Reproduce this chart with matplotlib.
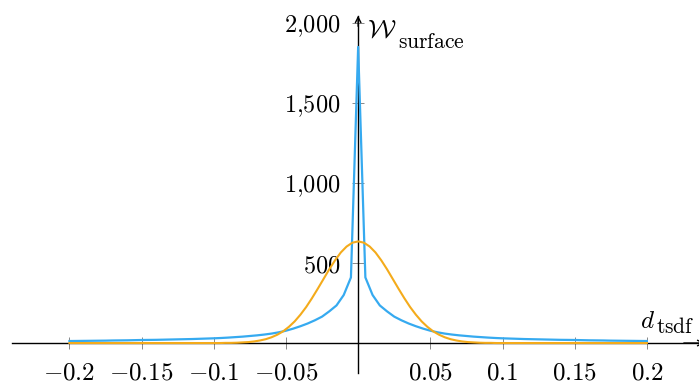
import numpy as np
import matplotlib
matplotlib.use("Agg")
import matplotlib.pyplot as plt

plt.rcParams['mathtext.fontset'] = 'cm'
plt.rcParams['font.family'] = 'DejaVu Serif'

# sample positions of the blue curve (step 0.005)
d_blue = np.linspace(-0.2, 0.2, 81)
# finer sampling for the yellow curve (step 0.004)
d_yellow = np.linspace(-0.2, 0.2, 101)

# surface weight: right half from 0.005 to 0.2
w_blue_right = [410, 300, 235, 198, 165, 142, 122, 105, 90, 77,
                67, 59, 53, 48, 44, 40, 37, 34, 31.5, 29.5,
                28, 26.5, 25, 24, 23, 22, 21, 20, 19.5, 19,
                18, 17, 16.5, 16, 15, 14.5, 14, 13.5, 13, 12.5]
w_blue_peak = 1850
w_blue = w_blue_right[::-1] + [w_blue_peak] + w_blue_right

w_yellow = [0] * 27 + [
    1, 1, 2, 4, 6, 10, 16, 24, 36, 52, 73, 101, 135, 177, 225, 280,
    339, 400, 461, 517, 566, 603, 627,
    635,
    627, 603, 566, 517, 461, 400, 339, 280, 225, 177, 135, 101, 73,
    52, 36, 24, 16, 10, 6, 4, 2, 1, 1] + [0] * 27

xticks = [-0.2, -0.15, -0.1, -0.05, 0.05, 0.1, 0.15, 0.2]
xlabels = ['$-0.2$', '$-0.15$', '$-0.1$', '$-0.05$',
           '$0.05$', '$0.1$', '$0.15$', '$0.2$']
yticks = [500, 1000, 1500, 2000]
ylabels = ['$500$', '$1{,}000$', '$1{,}500$', '$2{,}000$']

fig = plt.figure(figsize=(6.99, 3.85), dpi=100)
ax = fig.add_axes([11.7 / 699, 1 - 372.8 / 385, 692.9 / 699, 357.2 / 385])

ax.plot(d_blue, w_blue, color='#36aaf0', lw=1.6, zorder=3)
ax.plot(d_yellow, w_yellow, color='#f4ab1b', lw=1.5, zorder=3)

ax.set_xlim(-0.24, 0.24)
ax.set_ylim(-186, 2046)

for s in ['top', 'right']:
    ax.spines[s].set_visible(False)
ax.spines['left'].set_position(('data', 0))
ax.spines['bottom'].set_position(('data', 0))
ax.spines['left'].set_linewidth(1.0)
ax.spines['bottom'].set_linewidth(1.0)

# arrow heads
ax.annotate('', xy=(1, 0), xytext=(0.97, 0), xycoords=('axes fraction', 'data'),
            arrowprops=dict(arrowstyle='->', lw=1.0, color='k', shrinkA=0, shrinkB=0))
ax.annotate('', xy=(0, 1), xytext=(0, 0.97), xycoords=('data', 'axes fraction'),
            arrowprops=dict(arrowstyle='->', lw=1.0, color='k', shrinkA=0, shrinkB=0))

ax.set_xticks(xticks)
ax.set_xticklabels(xlabels, fontsize=18)
ax.set_yticks(yticks)
ax.set_yticklabels(ylabels, fontsize=17.5)
ax.tick_params(axis='both', direction='inout', length=8, width=0.7, color='#888888')
ax.tick_params(axis='x', pad=9.5)
ax.tick_params(axis='y', pad=8.5)

# axis labels (main symbol and subscript as separate texts)
fig.text(367 / 699, 1 - 37 / 385, r'$\mathcal{W}$', fontsize=19,
         ha='left', va='baseline')
fig.text(398 / 699, 1 - 48 / 385, r'$\mathrm{surface}$', fontsize=15.5,
         ha='left', va='baseline')
fig.text(640 / 699, 1 - 328 / 385, r'$d$', fontsize=18,
         ha='left', va='baseline')
fig.text(656 / 699, 1 - 333 / 385, r'$\mathrm{tsdf}$', fontsize=15.5,
         ha='left', va='baseline')

fig.savefig('out.png', dpi=100)
